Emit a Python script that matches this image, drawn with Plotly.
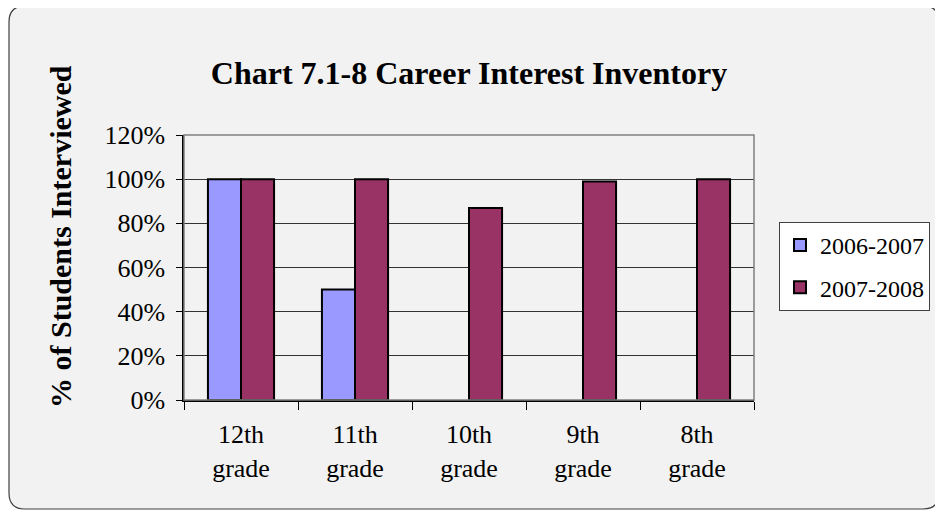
import plotly.graph_objects as go

categories = ["12th<br>grade", "11th<br>grade", "10th<br>grade", "9th<br>grade", "8th<br>grade"]
series_2006 = [1.00, 0.50, None, None, None]
series_2007 = [1.00, 1.00, 0.87, 0.99, 1.00]
y_ticks = [0, 0.2, 0.4, 0.6, 0.8, 1.0, 1.2]
y_labels = ["0%", "20%", "40%", "60%", "80%", "100%", "120%"]
y_title = "% of Students Interviewed"
chart_title = "Chart 7.1-8 Career Interest Inventory"

OFF = 8  # page body margin
W, H = 943 - OFF, 514 - OFF
L, R, T, B = 184, 754, 135, 400  # plot area in window pixels

def px(x):
    return (x - L) / (R - L)

def py(y):
    return (B - y) / (B - T)

font = "Liberation Serif, Times New Roman, serif"

fig = go.Figure()
fig.add_trace(go.Bar(name="2006-2007", x=categories, y=series_2006, legendgroup="a",
                     marker=dict(color="#9999ff", line=dict(color="black", width=2))))
fig.add_trace(go.Bar(name="2007-2008", x=categories, y=series_2007, legendgroup="b",
                     marker=dict(color="#993366", line=dict(color="black", width=2))))

# rounded background frame
x0, y0, x1, y1, r = 9, 6, 939, 509, 16
path = (f"M {px(x0+r)},{py(y0)} L {px(x1-r)},{py(y0)} "
        f"Q {px(x1)},{py(y0)} {px(x1)},{py(y0+r)} "
        f"L {px(x1)},{py(y1-r)} Q {px(x1)},{py(y1)} {px(x1-r)},{py(y1)} "
        f"L {px(x0+r)},{py(y1)} Q {px(x0)},{py(y1)} {px(x0)},{py(y1-r)} "
        f"L {px(x0)},{py(y0+r)} Q {px(x0)},{py(y0)} {px(x0+r)},{py(y0)} Z")

fig.update_layout(
    width=W, height=H,
    margin=dict(l=L - OFF, r=W - (R - OFF), t=T - OFF, b=H - (B - OFF)),
    paper_bgcolor="white",
    plot_bgcolor="#c0c0c0",
    barmode="group", bargap=0.42, bargroupgap=0,
    font=dict(family=font, size=26, color="black"),
    title=dict(text=f"<b>{chart_title}</b>",
               x=0.5, xref="paper", xanchor="center",
               y=1 - (73 - OFF) / H, yref="container", yanchor="middle",
               font=dict(family=font, size=32, color="black")),
    shapes=[
        dict(type="path", xref="paper", yref="paper", path=path,
             fillcolor="#f2f2f2", line=dict(color="#404040", width=1.2), layer="below"),
        dict(type="rect", xref="paper", yref="paper", x0=0, y0=0, x1=1, y1=1,
             line=dict(color="#808080", width=1.5), layer="above", fillcolor="rgba(0,0,0,0)"),
    ],
    annotations=[
        dict(text=f"<b>{y_title}</b>", xref="paper", yref="paper",
             x=px(60), y=py(237), xanchor="center", yanchor="middle",
             textangle=-90, showarrow=False,
             font=dict(family=font, size=30, color="black")),
    ],
    legend=dict(x=px(779), y=py(222), xanchor="left", yanchor="top",
                bgcolor="white", bordercolor="#404040", borderwidth=1,
                font=dict(family=font, size=24), tracegroupgap=8,
                itemwidth=30),
    showlegend=True,
)
fig.update_xaxes(showline=True, linecolor="black", linewidth=1.5,
                 ticks="outside", ticklen=8, tickcolor="black", tickson="boundaries",
                 ticklabelstandoff=10,
                 tickfont=dict(family=font, size=26), showgrid=False)
fig.update_yaxes(range=[0, 1.2], tickvals=y_ticks, ticktext=y_labels,
                 showline=True, linecolor="black", linewidth=1.5,
                 ticks="outside", ticklen=6, tickcolor="black",
                 ticklabelstandoff=6,
                 gridcolor="#333333", gridwidth=1.2, zeroline=False,
                 tickfont=dict(family=font, size=26))
fig.write_html("out.html")
